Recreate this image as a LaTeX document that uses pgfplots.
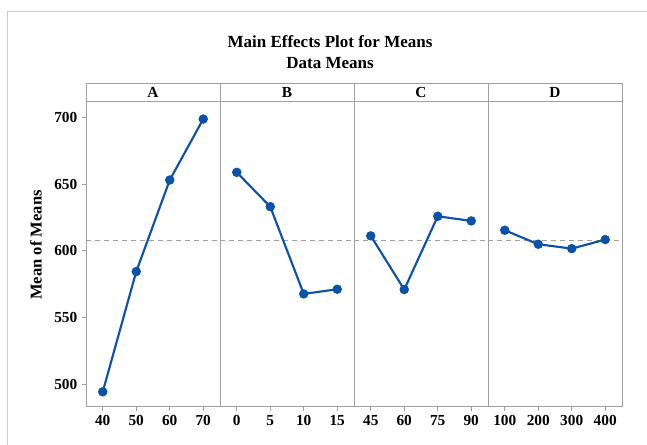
\documentclass[border=0pt]{standalone}
\usepackage{fontspec}
\setmainfont{Liberation Serif}
\usepackage{pgfplots}
\pgfplotsset{compat=1.18}

\definecolor{effblue}{RGB}{12,82,168}
\definecolor{framegray}{RGB}{160,160,160}
\definecolor{outergray}{RGB}{205,205,205}

% factor-level means and the grand mean
\newcommand{\grandmean}{607.7}

\pgfplotsset{
  panel/.style={
    anchor=south west,
    scale only axis,
    width=100.5pt, height=228.75pt,
    xmin=-0.5, xmax=3.5,
    ymin=483, ymax=712,
    xtick={0,1,2,3},
    xtick pos=bottom, ytick pos=left,
    tick align=outside,
    major tick length=3pt,
    tick style={framegray, line width=0.6pt},
    axis line style={framegray, line width=0.6pt},
    ticklabel style={font=\fontsize{11.5}{13}\selectfont\bfseries},
    /pgf/number format/assume math mode=true,
    clip=false,
  },
  effect/.style={effblue, line width=1.6pt, mark=*, mark size=2.7pt,
    mark options={fill=effblue, draw=effblue}},
  refline/.style={framegray, dash pattern=on 3.75pt off 3pt, line width=0.7pt},
}

% header strip above each panel
\newcommand{\panelhead}[1]{%
  \draw[framegray, line width=0.6pt] (rel axis cs:0,1) rectangle ([yshift=13.9pt]rel axis cs:1,1);
  \node[font=\fontsize{11.5}{13}\selectfont\bfseries] at ([yshift=6.95pt]rel axis cs:0.5,1) {#1};
}

\begin{document}
\begin{tikzpicture}
\path[use as bounding box] (0,0) rectangle (485.25pt,333.75pt);
\draw[outergray, line width=0.6pt] (5.25pt,0) -- (5.25pt,325.5pt) -- (485.25pt,325.5pt);

\node[font=\fontsize{12.75}{15}\selectfont\bfseries] at (247.5pt,302.25pt) {Main Effects Plot for Means};
\node[font=\fontsize{12.75}{15}\selectfont\bfseries] at (247.5pt,286.5pt) {Data Means};
\node[rotate=90, font=\fontsize{12.4}{15}\selectfont\bfseries] at (27pt,150pt) {Mean of Means};

% A
\begin{axis}[panel, at={(64.5pt,28.7pt)},
  ytick={500,550,600,650,700},
  xticklabels={40,50,60,70}]
\addplot[refline] coordinates {(-0.5,\grandmean) (3.5,\grandmean)};
\addplot[effect] coordinates {(0,494.2) (1,584.5) (2,653.2) (3,699.0)};
\panelhead{A}
\end{axis}

% B
\begin{axis}[panel, at={(165pt,28.7pt)},
  ytick=\empty,
  xticklabels={0,5,10,15}]
\addplot[refline] coordinates {(-0.5,\grandmean) (3.5,\grandmean)};
\addplot[effect] coordinates {(0,659.0) (1,633.2) (2,567.7) (3,571.2)};
\panelhead{B}
\end{axis}

% C
\begin{axis}[panel, at={(265.5pt,28.7pt)},
  ytick=\empty,
  xticklabels={45,60,75,90}]
\addplot[refline] coordinates {(-0.5,\grandmean) (3.5,\grandmean)};
\addplot[effect] coordinates {(0,611.3) (1,571.0) (2,626.0) (3,622.5)};
\panelhead{C}
\end{axis}

% D
\begin{axis}[panel, at={(366pt,28.7pt)},
  ytick=\empty,
  xticklabels={100,200,300,400}]
\addplot[refline] coordinates {(-0.5,\grandmean) (3.5,\grandmean)};
\addplot[effect] coordinates {(0,615.5) (1,605.0) (2,601.7) (3,608.5)};
\panelhead{D}
\end{axis}
\end{tikzpicture}
\end{document}
